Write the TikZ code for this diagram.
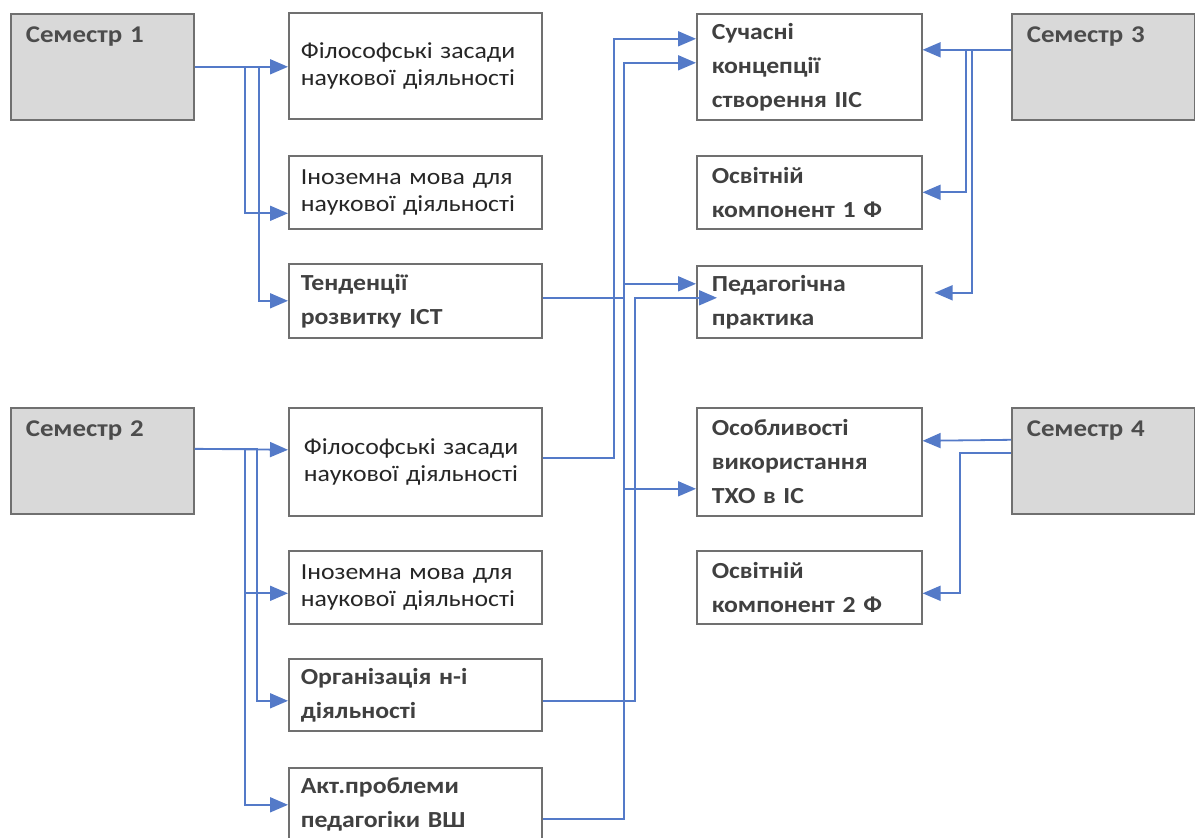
\documentclass[tikz,border=0pt]{standalone}
\usepackage{fontspec}
\setmainfont{Carlito}[FakeStretch=1.12]
\usepackage{tikz}
\usetikzlibrary{arrows.meta}
\usepackage{xcolor}
\definecolor{linkblue}{RGB}{84,122,200}
\definecolor{boxgray}{RGB}{112,112,112}
\definecolor{semfill}{RGB}{217,217,217}

\begin{document}
\begin{tikzpicture}[x=1pt,y=-1pt,
    box/.style={draw=boxgray, line width=1.6pt, fill=white, rectangle, anchor=north west,
        align=left, inner xsep=12pt, minimum width=253pt, text width=229pt},
    rbox/.style={box, inner xsep=15pt, minimum width=225pt, text width=195pt},
    plaintext/.style={font=\fontsize{23}{27}\selectfont, text=black!85},
    boldtext/.style={font=\fontsize{23}{34}\selectfont\bfseries, text=black!75},
    semester/.style={draw=boxgray, line width=1.6pt, fill=semfill, rectangle, anchor=north west,
        align=left, inner xsep=15pt, inner ysep=12pt, text width=153pt,
        text height=17pt, text depth=65pt, font=\fontsize{24}{28}\selectfont\bfseries, text=black!70},
    conn/.style={draw=linkblue, line width=1.8pt, -{Triangle[length=18pt,width=15pt]}}]
    \useasboundingbox (0,0) rectangle (1195,838);
    \clip (0,0) rectangle (1195,838);

    % semesters
    \node[semester] (sem1) at (10,13) {Семестр 1};
    \node[semester] (sem2) at (10,407) {Семестр 2};
    \node[semester] (sem3) at (1011,13) {Семестр 3};
    \node[semester] (sem4) at (1011,407) {Семестр 4};

    % first column
    \node[box, plaintext, minimum height=106pt] (fil1) at (288,12) {Філософські засади\\наукової діяльності};
    \node[box, plaintext, minimum height=73pt] (inoz1) at (288,155) {Іноземна мова для\\наукової діяльності};
    \node[box, boldtext, minimum height=74pt] (tend1) at (288,263) {Тенденції\\розвитку ІСТ};
    \node[box, plaintext, minimum height=108pt, inner xsep=15pt, text width=223pt] (fil2) at (288,407) {Філософські засади\\наукової діяльності};
    \node[box, plaintext, minimum height=73pt] (inoz2) at (288,550) {Іноземна мова для\\наукової діяльності};
    \node[box, boldtext, minimum height=72pt] (org2) at (288,658) {Організація н-і\\діяльності};
    \node[box, boldtext, minimum height=74pt] (akt2) at (288,767) {Акт.проблеми\\педагогіки ВШ};

    % second column
    \node[rbox, boldtext, minimum height=106pt] (suchas) at (696,13) {Сучасні\\концепції\\створення ІІС};
    \node[rbox, boldtext, minimum height=73pt] (osv1) at (696,155) {Освітній\\компонент 1 Ф};
    \node[rbox, boldtext, minimum height=72pt] (pedag) at (696,265) {Педагогічна\\практика};
    \node[rbox, boldtext, minimum height=108pt] (osob) at (696,407) {Особливості\\використання\\ТХО в ІС};
    \node[rbox, boldtext, minimum height=73pt] (osv2) at (696,550) {Освітній\\компонент 2 Ф};

    % semester 1
    \draw[conn] (sem1.east) -- (sem1.east -| fil1.west);
    \draw[conn] (sem1.east) -- ++(50,0) |- ([yshift=-21pt]inoz1.west);
    \draw[conn] (sem1.east) -- ++(64,0) |- (tend1.west);
    % semester 2
    \draw[conn] ([yshift=12pt]sem2.east) -- ([yshift=12pt]fil2.west);
    \draw[conn] ([yshift=12pt]sem2.east) -- ++(50,0) |- ([yshift=-6pt]inoz2.west);
    \draw[conn] ([yshift=12pt]sem2.east) -- ++(50,0) |- (akt2.west);
    \draw[conn] ([yshift=12pt]sem2.east) -- ++(62,0) |- ([yshift=-6pt]org2.west);
    % semester 3
    \draw[conn] ([yshift=17pt]sem3.west) -- ([yshift=17pt]suchas.east);
    \draw[conn] ([yshift=17pt]sem3.west) -- ++(-45,0) |- (osv1.east);
    \draw[conn] ([yshift=17pt]sem3.west) -- ++(-39,0) |- ([xshift=12pt,yshift=9pt]pedag.east);
    % semester 4
    \draw[conn] ([yshift=21pt]sem4.west) -- ([yshift=21pt]osob.east);
    \draw[conn] ([yshift=8pt]sem4.west) -- ++(-51,0) |- ([yshift=-6pt]osv2.east);

    % links across
    \draw[conn] ([yshift=4pt]fil2.east) -- ++(71,0) |- ([yshift=28pt]suchas.west);
    \draw[conn] ([yshift=-14pt]akt2.east) -- ++(81,0) |- ([yshift=4pt]suchas.west);
    \draw[conn] ([yshift=3pt]tend1.east) -- ++(81,0) |- ([yshift=18pt]pedag.west);
    \draw[conn] ([yshift=-14pt]akt2.east) -- ++(81,0) |- ([yshift=-27pt]osob.west);
    \draw[conn] ([yshift=-6pt]org2.east) -- ++(92,0) |- ([xshift=21pt,yshift=4pt]pedag.west);
\end{tikzpicture}
\end{document}
